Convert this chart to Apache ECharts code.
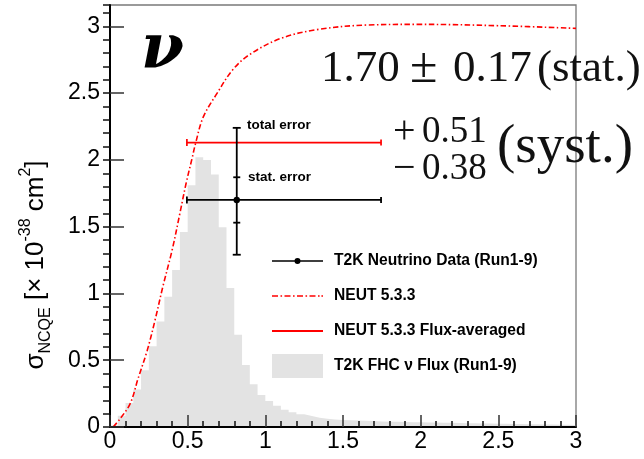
<!DOCTYPE html>
<html><head><meta charset="utf-8">
<script src="https://cdn.jsdelivr.net/npm/echarts@6/dist/echarts.min.js"></script>
<style>html,body{margin:0;padding:0;background:#fff}#c{width:644px;height:459px}</style>
</head><body><div id="c"></div>
<script>
// ---------------- data ----------------
const xTickLabels = ['0', '0.5', '1', '1.5', '2', '2.5', '3'];
const yTickLabels = ['0', '0.5', '1', '1.5', '2', '2.5', '3'];

// Flux histogram: bin left edges (GeV) and heights (arb. units, drawn on the sigma scale)
const fluxBinLeft = [0.00,0.05,0.10,0.15,0.20,0.25,0.30,0.35,0.40,0.45,
                     0.50,0.55,0.60,0.65,0.70,0.75,0.80,0.85,0.90,0.95,
                     1.00,1.05,1.10,1.15,1.20,1.25,1.30,1.35,1.40,1.45,
                     1.50,1.55,1.60,1.65,1.70,1.75,1.80,1.85,1.90,1.95,
                     2.00,2.05,2.10,2.15,2.20,2.25,2.30,2.35,2.40,2.45,
                     2.50,2.55,2.60,2.65,2.70,2.75,2.80,2.85,2.90,2.95,3.00];
const fluxHeight = [0.012,0.085,0.18,0.28,0.425,0.605,0.79,0.975,1.175,1.46,
                    1.81,2.02,2.00,1.89,1.495,1.04,0.69,0.465,0.32,0.24,
                    0.195,0.16,0.13,0.11,0.095,0.083,0.07,0.062,0.057,0.053,
                    0.05,0.048,0.046,0.044,0.042,0.04,0.039,0.037,0.036,0.035,
                    0.034,0.033,0.032,0.031,0.03,0.029,0.028,0.027,0.026,0.025,
                    0.024,0.023,0.022,0.021,0.02,0.019,0.018,0.017,0.016,0.015,0.015];

// NEUT 5.3.3 cross section curve
const neutX = [0.02,0.064,0.13,0.18,0.24,0.29,0.34,0.40,0.45,0.49,0.53,0.55,0.60,0.69,0.79,0.90,1.10,1.33,1.65,2.00,2.50,3.00];
const neutY = [0.00,0.06,0.175,0.36,0.575,0.80,1.05,1.325,1.60,1.825,2.02,2.12,2.32,2.50,2.675,2.79,2.91,2.975,3.01,3.015,3.005,2.985];

// NEUT flux-averaged
const fluxAvgValue = [2.13];
const fluxAvgRange = [0.495, 1.745];

// T2K data point
const dataPoint = [0.816, 1.70];
const dataXRange = [0.495, 1.745];
const statErr = [0.17, 0.17];   // [+, -]
const totalErr = [0.54, 0.41];  // [+, -]

// ---------------- chart ----------------
const chart = echarts.init(document.getElementById('c'), null, {renderer: 'canvas'});
const FONT = 'Liberation Sans, Arial, Helvetica, sans-serif';
const SERIF = 'Liberation Serif, Times New Roman, serif';

const fluxData = fluxBinLeft.map((x, i) => [x, fluxHeight[i]]);
const neutData = neutX.map((x, i) => [x, neutY[i]]);

const nameFlux = 'T2K FHC \u03bd Flux (Run1-9)';
const nameNeut = 'NEUT 5.3.3';
const nameAvg = 'NEUT 5.3.3 Flux-averaged';
const nameData = 'T2K Neutrino Data (Run1-9)';

const legendText = {fontFamily: FONT, fontWeight: 'bold', fontSize: 15.6, color: '#000', lineHeight: 18, padding: [0, 0, 0, 6]};
function legendAt(top, name, icon, h, color) {
  return {
    show: true, left: 272, top: top, padding: 0, itemWidth: 51, itemHeight: h,
    selectedMode: false, textStyle: legendText,
    data: [{name: name, icon: icon, itemStyle: {color: color, borderWidth: 0}}]
  };
}
const dashDotIcon = 'path://M0,0h6v1.6h-6Z M8.5,0h1.6v1.6h-1.6Z M12.5,0h6v1.6h-6Z M21,0h1.6v1.6h-1.6Z M25,0h6v1.6h-6Z M33.5,0h1.6v1.6h-1.6Z M37.5,0h6v1.6h-6Z M46,0h1.6v1.6h-1.6Z M49.4,0h1.6v1.6h-1.6Z';
const dataIcon = 'path://M0,2.3L51,2.3L51,3.7L0,3.7Z M22.5,3A3,3 0 1,1 28.5,3A3,3 0 1,1 22.5,3Z';

function txt(x, y, s, font, fill) {
  return {type: 'text', x: x, y: y, z: 10, style: {text: s, font: font, fill: fill || '#111', verticalAlign: 'middle', textVerticalAlign: 'middle'}};
}

const option = {
  animation: false,
  backgroundColor: '#fff',
  grid: {left: 110, right: 68, top: 5, bottom: 32, show: true, borderColor: '#7a7a7a', borderWidth: 1.3, backgroundColor: 'transparent'},
  legend: [
    legendAt(252, nameData, dataIcon, 6, '#000'),
    legendAt(287, nameNeut, dashDotIcon, 1.6, '#ff0000'),
    legendAt(322, nameAvg, 'rect', 1.8, '#ff0000'),
    legendAt(354, nameFlux, 'rect', 24, '#e3e3e3')
  ],
  xAxis: {
    type: 'value', min: 0, max: 3, interval: 0.5, z: 5,
    axisLine: {show: true, onZero: false, lineStyle: {color: '#000', width: 2}},
    axisTick: {show: true, inside: true, length: 12, lineStyle: {color: '#333', width: 1.5}},
    minorTick: {show: true, splitNumber: 5, length: 6, lineStyle: {color: '#111', width: 1.5}},
    splitLine: {show: false}, minorSplitLine: {show: false},
    axisLabel: {fontFamily: FONT, fontSize: 23, color: '#000', margin: 3,
      formatter: v => xTickLabels[Math.round(v / 0.5)]}
  },
  yAxis: [{
    type: 'value', min: 0, max: 3.16, interval: 0.5, z: 5,
    axisLine: {show: true, onZero: false, lineStyle: {color: '#000', width: 2}},
    axisTick: {show: true, inside: true, length: 14, lineStyle: {color: '#333', width: 1.5}},
    splitLine: {show: false},
    axisLabel: {fontFamily: FONT, fontSize: 23, color: '#000', margin: 10, showMaxLabel: false,
      formatter: v => { const i = Math.round(v / 0.5); return Math.abs(v - i * 0.5) < 1e-6 ? yTickLabels[i] : ''; }},
    name: '{a|\u03c3}{b|NCQE}{a| [\u00d7 10}{c|-38}{a| cm}{c|2}{a|]}',
    nameLocation: 'middle', nameRotate: 90, nameGap: 56,
    nameTextStyle: {
      padding: [0, 98, 0, 0],
      rich: {
        a: {fontFamily: FONT, fontSize: 26, color: '#000', lineHeight: 36, verticalAlign: 'middle'},
        b: {fontFamily: FONT, fontSize: 16, color: '#000', lineHeight: 36, verticalAlign: 'bottom'},
        c: {fontFamily: FONT, fontSize: 16, color: '#000', lineHeight: 36, verticalAlign: 'top'}
      }
    }
  }, {
    type: 'value', min: 0, max: 3.16, interval: 0.1, z: 5,
    axisLine: {show: false},
    axisTick: {show: true, inside: true, length: 7, lineStyle: {color: '#111', width: 1.5}},
    splitLine: {show: false},
    axisLabel: {show: false}
  }],
  series: [
    {
      name: nameFlux, type: 'line', step: 'end', data: fluxData, symbol: 'none', z: 1,
      color: '#e3e3e3', lineStyle: {width: 0, color: '#e3e3e3'}, areaStyle: {color: '#e3e3e3', opacity: 1}
    },
    {
      name: nameNeut, type: 'line', data: neutData, symbol: 'none', smooth: 0.35, z: 3,
      color: '#ff0000', lineStyle: {color: '#ff0000', width: 1.6, type: [5.5, 2.5, 1.5, 2.5]}
    },
    {
      name: nameAvg, type: 'custom', z: 4, color: '#ff0000',
      data: [[fluxAvgRange[0], fluxAvgRange[1], fluxAvgValue[0]]],
      renderItem: function (params, api) {
        const l = api.coord([api.value(0), api.value(2)]);
        const r = api.coord([api.value(1), api.value(2)]);
        const st = {stroke: '#ff0000', lineWidth: 1.7, fill: null};
        return {type: 'group', children: [
          {type: 'line', shape: {x1: l[0], y1: l[1], x2: r[0], y2: r[1]}, style: st},
          {type: 'line', shape: {x1: l[0], y1: l[1] - 3.5, x2: l[0], y2: l[1] + 3.5}, style: st},
          {type: 'line', shape: {x1: r[0], y1: r[1] - 3, x2: r[0], y2: r[1] + 3}, style: st}
        ]};
      }
    },
    {
      name: nameData, type: 'custom', z: 6, color: '#000',
      data: [[dataPoint[0], dataPoint[1], dataXRange[0], dataXRange[1],
              dataPoint[1] - statErr[1], dataPoint[1] + statErr[0],
              dataPoint[1] - totalErr[1], dataPoint[1] + totalErr[0]]],
      renderItem: function (params, api) {
        const x = api.value(0), y = api.value(1);
        const p = api.coord([x, y]);
        const pl = api.coord([api.value(2), y]);
        const ph = api.coord([api.value(3), y]);
        const sl = api.coord([x, api.value(4)]);
        const sh = api.coord([x, api.value(5)]);
        const tl = api.coord([x, api.value(6)]);
        const th = api.coord([x, api.value(7)]);
        const st = {stroke: '#000', lineWidth: 1.8, fill: null};
        const c = 4;
        return {type: 'group', children: [
          {type: 'line', shape: {x1: pl[0], y1: p[1], x2: ph[0], y2: p[1]}, style: st},
          {type: 'line', shape: {x1: pl[0], y1: p[1] - 3.5, x2: pl[0], y2: p[1] + 3.5}, style: st},
          {type: 'line', shape: {x1: ph[0], y1: p[1] - 3, x2: ph[0], y2: p[1] + 3}, style: st},
          {type: 'line', shape: {x1: p[0], y1: tl[1], x2: p[0], y2: th[1]}, style: st},
          {type: 'line', shape: {x1: p[0] - c, y1: tl[1], x2: p[0] + c, y2: tl[1]}, style: st},
          {type: 'line', shape: {x1: p[0] - c, y1: th[1], x2: p[0] + c, y2: th[1]}, style: st},
          {type: 'line', shape: {x1: p[0] - 3.5, y1: sl[1], x2: p[0] + 3.5, y2: sl[1]}, style: st},
          {type: 'line', shape: {x1: p[0] - 3.5, y1: sh[1], x2: p[0] + 3.5, y2: sh[1]}, style: st},
          {type: 'circle', shape: {cx: p[0], cy: p[1], r: 3.2}, style: {fill: '#000'}}
        ]};
      }
    }
  ],
  graphic: [
    txt(141, 51, '\u03bd', 'italic bold 62px DejaVu Serif', '#000'),
    txt(321, 69, '1.70', '45px ' + SERIF),
    txt(410, 69, '\u00b1', '50px ' + SERIF),
    txt(453, 69, '0.17', '45px ' + SERIF),
    txt(537, 69, '(stat.)', '45px ' + SERIF),
    txt(393, 132, '+', '40px ' + SERIF),
    txt(422, 132, '0.51', '37px ' + SERIF),
    txt(393, 169, '\u2212', '40px ' + SERIF),
    txt(422, 169, '0.38', '37px ' + SERIF),
    txt(497, 148, '(syst.)', '55px ' + SERIF),
    txt(247, 125, 'total error', 'bold 13.5px ' + FONT, '#000'),
    txt(248, 177, 'stat. error', 'bold 13.5px ' + FONT, '#000')
  ]
};
chart.setOption(option);
</script>
</body></html>
